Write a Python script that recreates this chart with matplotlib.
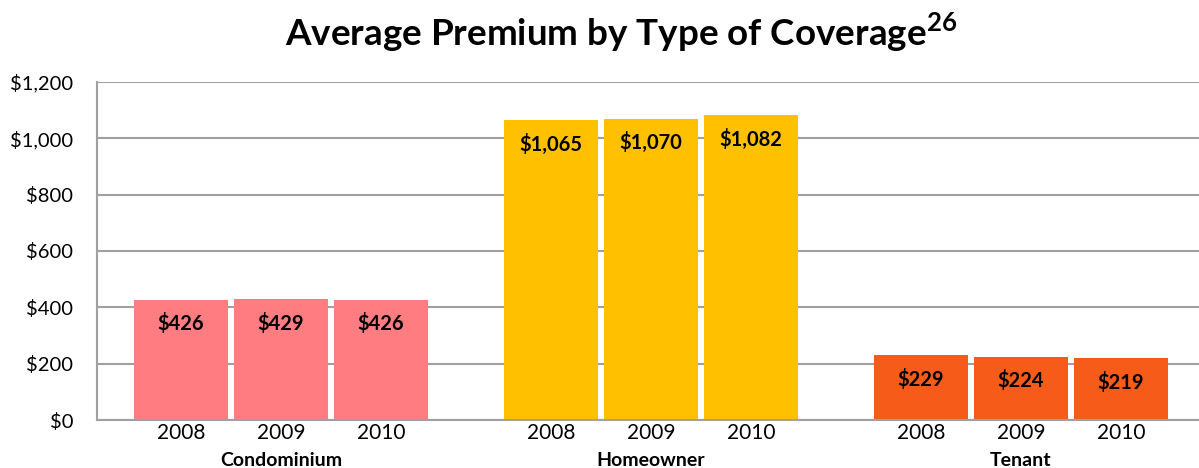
import numpy as np
import matplotlib.pyplot as plt

plt.rcParams['font.family'] = ['Lato', 'DejaVu Sans']
plt.rcParams['mathtext.fontset'] = 'custom'
plt.rcParams['mathtext.rm'] = 'Lato'
plt.rcParams['mathtext.bf'] = 'Lato:bold'

coverage = ['Condominium', 'Homeowner', 'Tenant']
years = ['2008', '2009', '2010']
premium = {
    'Condominium': [426, 429, 426],
    'Homeowner': [1065, 1070, 1082],
    'Tenant': [229, 224, 219],
}
colors = {'Condominium': '#FF7C80', 'Homeowner': '#FFC000', 'Tenant': '#F75B1A'}
yticks = [0, 200, 400, 600, 800, 1000, 1200]

fig = plt.figure(figsize=(11.99, 4.68), dpi=100)
ax = fig.add_axes([97 / 1199, 1 - 420 / 468, 1 - 97 / 1199, 338 / 468])

group_step = 3.7
offsets = np.array([-1.0, 0.0, 1.0])
for g, name in enumerate(coverage):
    xc = 1.84 + g * group_step
    xs = xc + offsets
    vals = premium[name]
    ax.bar(xs, vals, width=0.94, color=colors[name], zorder=2)
    for x, v, yr in zip(xs, vals, years):
        ax.text(x, v - 85, '${:,}'.format(v), ha='center', va='center',
                fontsize=14.5, fontweight='bold', color='black', zorder=3)
        ax.text(x, -10, yr, ha='center', va='top', fontsize=15, clip_on=False)
    ax.text(xc, -112, name, ha='center', va='top', fontsize=14,
            fontweight='bold', clip_on=False)

ax.set_xlim(0, 11.02)
ax.set_ylim(0, 1200)
ax.set_yticks(yticks)
ax.set_yticklabels(['${:,}'.format(t) for t in yticks], fontsize=14.5)
ax.set_xticks([])
ax.tick_params(axis='y', length=0, pad=17)
ax.yaxis.grid(True, color='#A0A0A0', linewidth=1.5, zorder=0)
ax.set_axisbelow(True)
for side in ['top', 'right']:
    ax.spines[side].set_visible(False)
for side in ['left', 'bottom']:
    ax.spines[side].set_color('#A0A0A0')
    ax.spines[side].set_linewidth(1.5)

fig.text(0.518, 0.93, r'Average Premium by Type of Coverage$^{\mathbf{26}}$',
         ha='center', va='center', fontsize=26.5, fontweight='bold')

fig.savefig('out.png', dpi=100)
